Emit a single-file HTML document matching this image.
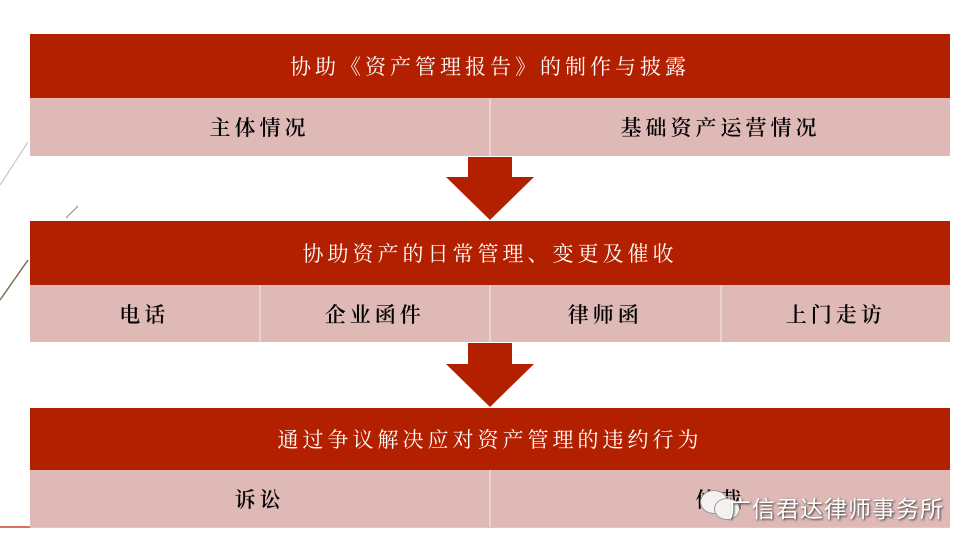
<!DOCTYPE html>
<html><head><meta charset="utf-8"><style>
body{margin:0;width:976px;height:550px;background:#fff;position:relative;overflow:hidden;font-family:"Liberation Serif","Noto Serif CJK SC",serif;}
.h{position:absolute;left:30px;width:920px;background:#b32000;color:#fff;font-size:21px;letter-spacing:4px;display:flex;align-items:center;justify-content:center;}
.r{position:absolute;left:30px;width:920px;display:flex;}
.c{flex:1;background:#deb9b6;border-right:2px solid #ead2d0;display:flex;align-items:center;justify-content:center;font-size:21px;letter-spacing:4px;color:#000;font-weight:600;}
.c:last-child{border-right:none}
</style></head><body>
<svg style="position:absolute;left:0;top:0" width="976" height="550">
<line x1="0" y1="185" x2="28" y2="142" stroke="#bbb" stroke-width="1"/>
<line x1="66" y1="218" x2="78" y2="206" stroke="#888" stroke-width="1"/>
<line x1="0" y1="300" x2="28" y2="260" stroke="#7a6a50" stroke-width="1.5"/>
<line x1="0" y1="527" x2="30" y2="527" stroke="#d04030" stroke-width="1.5"/>
<line x1="30" y1="527" x2="950" y2="527" stroke="#e08070" stroke-width="1"/>
<polygon points="468,157 512,157 512,177 534,177 490,220 446,177 468,177" fill="#b32000"/>
<polygon points="468,343 512,343 512,364 534,364 490,407 446,364 468,364" fill="#b32000"/>
</svg>
<div class="h" style="top:34px;height:64px">协助《资产管理报告》的制作与披露</div>
<div class="r" style="top:98px;height:58px"><div class="c">主体情况</div><div class="c">基础资产运营情况</div></div>
<div class="h" style="top:221px;height:64px">协助资产的日常管理、变更及催收</div>
<div class="r" style="top:285px;height:57px"><div class="c">电话</div><div class="c">企业函件</div><div class="c">律师函</div><div class="c">上门走访</div></div>
<div class="h" style="top:408px;height:62px">通过争议解决应对资产管理的违约行为</div>
<div class="r" style="top:470px;height:57px"><div class="c">诉讼</div><div class="c">仲裁</div></div>
<div style="position:absolute;left:700px;top:490px;width:44px;height:30px">
<div style="position:absolute;left:0;top:0;width:26px;height:22px;border-radius:50%;background:#f4f2f0;border:1px solid #999"></div>
<div style="position:absolute;left:14px;top:8px;width:24px;height:20px;border-radius:50%;background:#f4f2f0;border:1px solid #999"></div>
</div>
<div style="position:absolute;left:728px;top:490px;font-family:'Liberation Sans','Noto Sans CJK SC',sans-serif;font-size:23px;letter-spacing:1px;color:#fff;text-shadow:1px 1px 2px #333">广信君达律师事务所</div>
</body></html>
